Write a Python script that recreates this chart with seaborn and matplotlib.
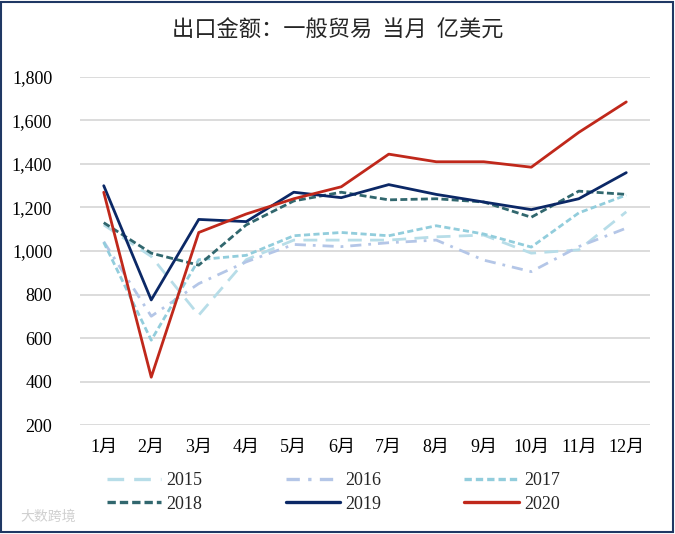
import matplotlib
matplotlib.use("Agg")
import matplotlib.pyplot as plt
import numpy as np
import pandas as pd
import seaborn as sns
from matplotlib.lines import Line2D
from matplotlib.patches import Rectangle

# ---- data ----
months = ["1月", "2月", "3月", "4月", "5月", "6月", "7月", "8月", "9月", "10月", "11月", "12月"]
years = ["2015", "2016", "2017", "2018", "2019", "2020"]
v2015 = [1120, 975, 705, 960, 1050, 1050, 1050, 1065, 1073, 990, 1005, 1180]
v2016 = [1043, 700, 850, 950, 1030, 1020, 1038, 1050, 958, 905, 1020, 1105]
v2017 = [1040, 590, 960, 980, 1070, 1085, 1070, 1116, 1078, 1018, 1175, 1257]
v2018 = [1130, 990, 935, 1120, 1230, 1270, 1235, 1240, 1225, 1155, 1275, 1260]
v2019 = [1300, 775, 1145, 1135, 1270, 1245, 1305, 1260, 1225, 1190, 1240, 1360]
v2020 = [1270, 420, 1085, 1170, 1240, 1295, 1445, 1410, 1410, 1385, 1545, 1685]

colors = {"2015": "#b7dde8", "2016": "#b4c6e7", "2017": "#92cddc",
          "2018": "#31676e", "2019": "#0b2866", "2020": "#c0281b"}
dashes = {"2015": (5, 3), "2016": (4, 2.5, 1, 2.5), "2017": (2.2, 1.2),
          "2018": (2.5, 1.2), "2019": "", "2020": ""}

series = [v2015, v2016, v2017, v2018, v2019, v2020]
df = pd.DataFrame({
    "month": np.tile(np.arange(len(months)), len(years)),
    "year": np.repeat(years, len(months)),
    "value": np.concatenate(series),
})

sns.set_theme(style="white")
cjk = ["Liberation Serif", "Noto Sans CJK SC", "DejaVu Sans"]
plt.rcParams["font.family"] = cjk

fig = plt.figure(figsize=(6.75, 5.34), dpi=100)
ax = fig.add_axes([0.1185, 0.204, 0.8445, 0.652])

sns.lineplot(data=df, x="month", y="value", hue="year", style="year",
             palette=colors, dashes=dashes, linewidth=2.0, ax=ax, legend=False)

ax.set_xlim(-0.5, 11.5)
ax.set_ylim(200, 1800)
ax.set_yticks(np.arange(200, 1801, 200))
ax.set_yticklabels([f"{v:,}" for v in range(200, 1801, 200)])
ax.set_xticks(np.arange(len(months)))
ax.set_xticklabels(months)
ax.tick_params(axis="both", length=0, labelsize=13, colors="black")
ax.tick_params(axis="y", pad=20)
ax.tick_params(axis="x", pad=10)
ax.set_xlabel("")
ax.set_ylabel("")
ax.yaxis.grid(True, color="#d9d9d9", linewidth=1.3)
ax.xaxis.grid(False)
for s in ax.spines.values():
    s.set_visible(False)

fig.text(0.5, 0.944, "出口金额：一般贸易  当月  亿美元", ha="center", va="center",
         fontsize=16, family=["Noto Sans CJK SC", "DejaVu Sans"])

# legend in row order: 2015 2016 2017 / 2018 2019 2020
handles = {}
for y in years:
    d = dashes[y]
    h = Line2D([], [], color=colors[y], linewidth=2.4)
    if d:
        h.set_dashes(d)
    handles[y] = h
order = ["2015", "2018", "2016", "2019", "2017", "2020"]
fig.legend([handles[y] for y in order], order, loc="center",
           bbox_to_anchor=(0.494, 0.078), ncol=3, frameon=False,
           fontsize=13, handlelength=3.0, handletextpad=0.3,
           columnspacing=4.6, labelspacing=0.35)

fig.text(0.03, 0.025, "大数跨境", fontsize=10, color="#d0d0d0",
         family=["Noto Sans CJK SC", "DejaVu Sans"])

fig.patches.append(Rectangle((0.002, 0.003), 0.995, 0.994, transform=fig.transFigure,
                             fill=False, edgecolor="#1f3864", linewidth=1.5))

fig.savefig("out.png", dpi=100)
